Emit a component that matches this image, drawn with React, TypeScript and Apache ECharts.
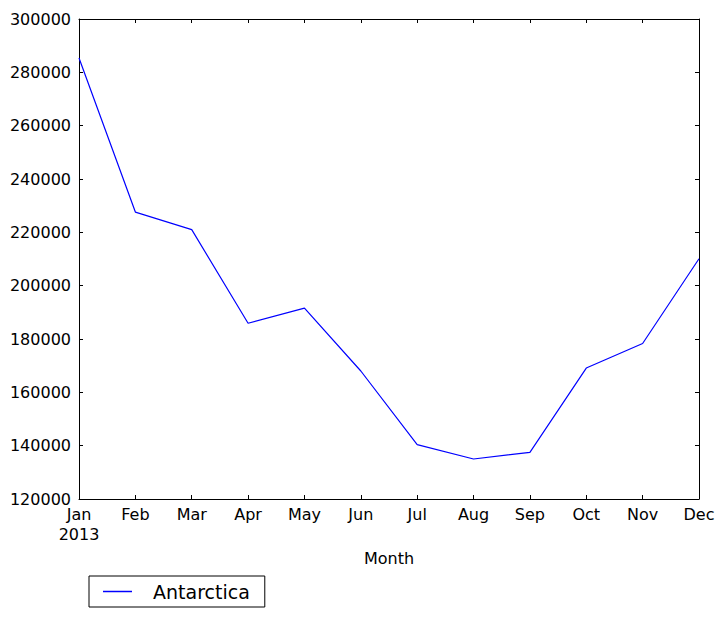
import React, { useEffect, useRef } from "react";
import * as echarts from "echarts";

const months = ["Jan", "Feb", "Mar", "Apr", "May", "Jun", "Jul", "Aug", "Sep", "Oct", "Nov", "Dec"];
const antarctica = [285400, 227600, 221000, 185900, 191600, 168000, 140400, 135000, 137500, 169100, 178300, 210100];
const seriesName = "Antarctica";
const yearLabel = "2013";

export default function App() {
  const ref = useRef<HTMLDivElement>(null);
  useEffect(() => {
    if (!ref.current) return;
    const chart = echarts.init(ref.current, null, { renderer: "svg" });
    const font = "DejaVu Sans";
    const axisLine = { show: true, lineStyle: { color: "#000", width: 1 } };
    chart.setOption({
      animation: false,
      textStyle: { fontFamily: font },
      grid: { left: 79, top: 19, right: 25, bottom: 122, containLabel: false },
      legend: {
        left: 89,
        top: 576,
        orient: "horizontal",
        data: [seriesName],
        icon: "rect",
        itemWidth: 29,
        itemHeight: 1.5,
        borderColor: "#000",
        borderWidth: 1,
        borderRadius: 0,
        padding: [6, 15, 6, 14],
        textStyle: { fontSize: 19, color: "#000", fontFamily: font, padding: [0, 0, 0, 16] },
      },
      xAxis: [
        {
          type: "category",
          data: months,
          boundaryGap: false,
          position: "bottom",
          name: "Month",
          nameLocation: "middle",
          nameGap: 51,
          nameTextStyle: { fontSize: 16, color: "#000", fontFamily: font },
          axisLine,
          axisTick: { show: true, inside: true, length: 4, lineStyle: { color: "#000" } },
          axisLabel: {
            fontSize: 16,
            color: "#000",
            margin: 5,
            lineHeight: 20,
            fontFamily: font,
            formatter: (v: string, i: number) => (i === 0 ? v + "\n" + yearLabel : v),
          },
          splitLine: { show: false },
        },
        {
          type: "category",
          data: months,
          boundaryGap: false,
          position: "top",
          axisLine,
          axisTick: { show: true, inside: true, length: 4, lineStyle: { color: "#000" } },
          axisLabel: { show: false },
          splitLine: { show: false },
        },
      ],
      yAxis: [
        {
          type: "value",
          min: 120000,
          max: 300000,
          interval: 20000,
          position: "left",
          axisLine,
          axisTick: { show: true, inside: true, length: 4, lineStyle: { color: "#000" } },
          axisLabel: { fontSize: 16, color: "#000", margin: 8, fontFamily: font, formatter: (v: number) => String(v) },
          splitLine: { show: false },
        },
        {
          type: "value",
          min: 120000,
          max: 300000,
          interval: 20000,
          position: "right",
          axisLine,
          axisTick: { show: true, inside: true, length: 4, lineStyle: { color: "#000" } },
          axisLabel: { show: false },
          splitLine: { show: false },
        },
      ],
      series: [
        {
          name: seriesName,
          type: "line",
          data: antarctica,
          xAxisIndex: 0,
          yAxisIndex: 0,
          showSymbol: false,
          symbol: "none",
          lineStyle: { color: "#0000ff", width: 1.2 },
          itemStyle: { color: "#0000ff" },
        },
      ],
    });
    return () => chart.dispose();
  }, []);
  return <div ref={ref} style={{ width: 724, height: 621, position: "absolute", left: 0, top: 0 }} />;
}
